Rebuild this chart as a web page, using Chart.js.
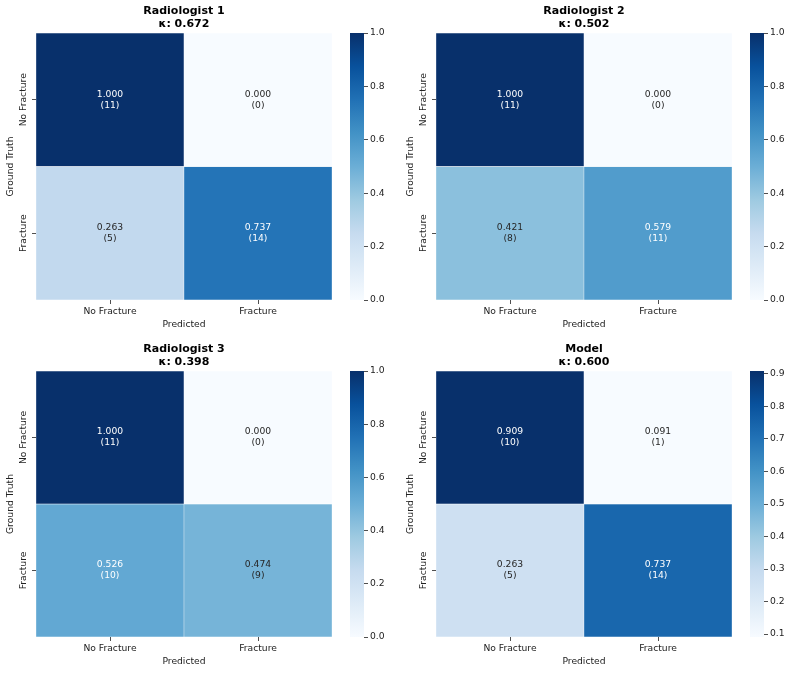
<!DOCTYPE html>
<html><head><meta charset="utf-8">
<script src="https://cdn.jsdelivr.net/npm/chart.js@4.4.1/dist/chart.umd.min.js"></script>
<style>
html,body{margin:0;padding:0;background:#fff;}
#wrap{position:relative;width:792px;height:674px;overflow:hidden;}
canvas{position:absolute;}
</style></head><body><div id="wrap"></div>
<script>
// ---------------- data ----------------
const predictedLabels = ['No Fracture', 'Fracture'];
const truthLabels = ['No Fracture', 'Fracture'];
const panelTitles = ['Radiologist 1', 'Radiologist 2', 'Radiologist 3', 'Model'];
const kappaValues = [0.672, 0.502, 0.398, 0.600];

const rates1 = [[1.000, 0.000], [0.263, 0.737]];
const counts1 = [[11, 0], [5, 14]];
const rates2 = [[1.000, 0.000], [0.421, 0.579]];
const counts2 = [[11, 0], [8, 11]];
const rates3 = [[1.000, 0.000], [0.526, 0.474]];
const counts3 = [[11, 0], [10, 9]];
const ratesModel = [[0.909, 0.091], [0.263, 0.737]];
const countsModel = [[10, 1], [5, 14]];

const colorbarTicksUnit = [0.0, 0.2, 0.4, 0.6, 0.8, 1.0];
const colorbarTicksModel = [0.1, 0.2, 0.3, 0.4, 0.5, 0.6, 0.7, 0.8, 0.9];

const panelRates = [rates1, rates2, rates3, ratesModel];
const panelCounts = [counts1, counts2, counts3, countsModel];
const panelCbTicks = [colorbarTicksUnit, colorbarTicksUnit, colorbarTicksUnit, colorbarTicksModel];

// ---------------- styling / layout ----------------
const FONT = 'DejaVu Sans';
const TXT = '#222222';
const BLUES = [
  [0.9686, 0.9843, 1.0000], [0.8706, 0.9216, 0.9686], [0.7765, 0.8588, 0.9373],
  [0.6196, 0.7922, 0.8824], [0.4196, 0.6824, 0.8392], [0.2588, 0.5725, 0.7765],
  [0.1294, 0.4431, 0.7098], [0.0314, 0.3176, 0.6118], [0.0314, 0.1882, 0.4196]
];
function bluesRGB(t) {
  t = Math.max(0, Math.min(1, t));
  const p = t * (BLUES.length - 1);
  const i = Math.min(Math.floor(p), BLUES.length - 2);
  const f = p - i;
  return BLUES[i].map((c, k) => c + (BLUES[i + 1][k] - c) * f);
}
function rgbStr(c) { return 'rgb(' + c.map(v => Math.round(v * 255)).join(',') + ')'; }
function luminance(c) {
  const lin = c.map(v => v <= 0.03928 ? v / 12.92 : Math.pow((v + 0.055) / 1.055, 2.4));
  return 0.2126 * lin[0] + 0.7152 * lin[1] + 0.0722 * lin[2];
}

const layouts = [
  {left: 0,   top: 0,   h: 337, cbLeft: 340, cbW: 60, cbPad: 10},
  {left: 400, top: 0,   h: 337, cbLeft: 740, cbW: 52, cbPad: 10},
  {left: 0,   top: 338, h: 336, cbLeft: 340, cbW: 60, cbPad: 10},
  {left: 400, top: 338, h: 336, cbLeft: 740, cbW: 52, cbPad: 10}
];
const HEAT_W = 340, AREA_LEFT = 36, AREA_RIGHT_PAD = 8, AREA_TOP = 33, XAXIS_H = 37, CB_BAR_W = 14;

const wrap = document.getElementById('wrap');
function makeCanvas(l, t, w, h) {
  const c = document.createElement('canvas');
  c.width = w; c.height = h;
  c.style.left = l + 'px'; c.style.top = t + 'px';
  c.style.width = w + 'px'; c.style.height = h + 'px';
  wrap.appendChild(c);
  return c;
}

const annotPlugin = {
  id: 'annot',
  afterDatasetsDraw(chart, args, opts) {
    const ctx = chart.ctx;
    ctx.save();
    ctx.font = '9.2px "' + FONT + '"';
    ctx.textAlign = 'center';
    ctx.textBaseline = 'middle';
    chart.data.datasets.forEach((ds, i) => {
      const meta = chart.getDatasetMeta(i);
      meta.data.forEach((bar, j) => {
        const p = bar.getProps(['x', 'y', 'base'], true);
        const cy = (p.y + p.base) / 2;
        const v = opts.rates[i][j];
        const col = bluesRGB((v - opts.vmin) / (opts.vmax - opts.vmin));
        ctx.fillStyle = luminance(col) > 0.408 ? '#262626' : '#ffffff';
        ctx.fillText(v.toFixed(3), p.x, cy - 5.5);
        ctx.fillText('(' + opts.counts[i][j] + ')', p.x, cy + 5.5);
      });
    });
    ctx.restore();
  }
};
const yLabelPlugin = {
  id: 'ylabels',
  afterDraw(chart, args, opts) {
    const ctx = chart.ctx, ys = chart.scales.y;
    const n = opts.labels.length;
    ctx.save();
    ctx.font = '9.2px "' + FONT + '"';
    ctx.fillStyle = TXT;
    ctx.textAlign = 'center';
    ctx.textBaseline = 'middle';
    opts.labels.forEach((lab, i) => {
      const y = ys.getPixelForValue(n - i - 0.5);
      ctx.save();
      ctx.translate(chart.chartArea.left - 12, y);
      ctx.rotate(-Math.PI / 2);
      ctx.fillText(lab, 0, 0);
      ctx.restore();
    });
    ctx.restore();
  }
};

panelTitles.forEach((title, pi) => {
  const L = layouts[pi];
  const rates = panelRates[pi], counts = panelCounts[pi];
  const flat = rates.flat();
  const vmin = Math.min(...flat), vmax = Math.max(...flat);
  const nRows = truthLabels.length;

  const heat = makeCanvas(L.left, L.top, HEAT_W, L.h);
  const datasets = truthLabels.map((rowLab, i) => ({
    label: rowLab,
    data: predictedLabels.map(() => [nRows - 1 - i, nRows - i]),
    backgroundColor: rates[i].map(v => rgbStr(bluesRGB((v - vmin) / (vmax - vmin)))),
    borderColor: 'rgba(255,255,255,0.8)',
    borderWidth: 0.5,
    borderSkipped: false,
    grouped: false,
    barPercentage: 1,
    categoryPercentage: 1
  }));
  new Chart(heat, {
    type: 'bar',
    data: {labels: predictedLabels, datasets},
    plugins: [annotPlugin, yLabelPlugin],
    options: {
      responsive: false, animation: false, events: [],
      layout: {padding: {left: 0, right: AREA_RIGHT_PAD, top: 0, bottom: 0}},
      plugins: {
        legend: {display: false}, tooltip: {enabled: false},
        title: {
          display: true, fullSize: false,
          text: [title, 'κ: ' + kappaValues[pi].toFixed(3)],
          color: '#000', font: {family: FONT, size: 11, weight: 'bold', lineHeight: 1.15},
          padding: {top: 4.7, bottom: 3}
        },
        annot: {rates, counts, vmin, vmax},
        ylabels: {labels: truthLabels}
      },
      scales: {
        x: {
          type: 'category',
          grid: {display: true, drawOnChartArea: false, drawTicks: true, tickLength: 4, offset: false, color: TXT, tickColor: TXT, lineWidth: 0.8},
          border: {display: false},
          ticks: {color: TXT, font: {family: FONT, size: 9.2}, padding: 2, maxRotation: 0, minRotation: 0},
          title: {display: true, text: 'Predicted', color: TXT, font: {family: FONT, size: 9.2}, padding: {top: 0, bottom: 6.5}},
          afterFit: s => { s.height = XAXIS_H; }
        },
        y: {
          type: 'linear', min: 0, max: nRows,
          afterBuildTicks: s => { s.ticks = truthLabels.map((_, i) => ({value: nRows - i - 0.5})); },
          grid: {display: true, drawOnChartArea: false, drawTicks: true, tickLength: 4, color: TXT, tickColor: TXT, lineWidth: 0.8},
          border: {display: false},
          ticks: {callback: () => '', font: {family: FONT, size: 9.2}},
          title: {display: true, text: 'Ground Truth', color: TXT, font: {family: FONT, size: 9.2}, padding: {top: 5, bottom: 0}},
          afterFit: s => { s.width = AREA_LEFT; }
        }
      }
    }
  });

  // colorbar
  const cb = makeCanvas(L.cbLeft, L.top, L.cbW, L.h);
  const cbTicks = panelCbTicks[pi];
  new Chart(cb, {
    type: 'bar',
    data: {
      labels: [''],
      datasets: [{
        data: [[vmin, vmax]],
        backgroundColor: (ctx) => {
          const area = ctx.chart.chartArea;
          if (!area) return rgbStr(BLUES[4]);
          const g = ctx.chart.ctx.createLinearGradient(0, area.bottom, 0, area.top);
          BLUES.forEach((c, k) => g.addColorStop(k / (BLUES.length - 1), rgbStr(c)));
          return g;
        },
        borderWidth: 0, barPercentage: 1, categoryPercentage: 1
      }]
    },
    options: {
      responsive: false, animation: false, events: [],
      layout: {padding: {left: L.cbPad, right: 0, top: AREA_TOP, bottom: XAXIS_H}},
      plugins: {legend: {display: false}, tooltip: {enabled: false}},
      scales: {
        x: {display: false},
        y: {
          position: 'right', min: vmin, max: vmax,
          afterBuildTicks: s => { s.ticks = cbTicks.map(v => ({value: v})); },
          grid: {display: true, drawOnChartArea: false, drawTicks: true, tickLength: 4, color: TXT, tickColor: TXT, lineWidth: 0.8},
          border: {display: false},
          ticks: {color: TXT, font: {family: FONT, size: 9.2}, padding: 2, callback: v => Number(v).toFixed(1)},
          afterFit: s => { s.width = L.cbW - L.cbPad - CB_BAR_W; }
        }
      }
    }
  });
});
</script>
</body></html>
